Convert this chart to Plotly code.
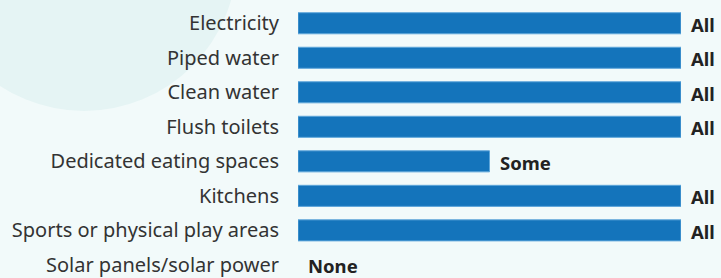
import plotly.graph_objects as go

categories = ["Electricity", "Piped water", "Clean water", "Flush toilets",
              "Dedicated eating spaces", "Kitchens",
              "Sports or physical play areas", "Solar panels/solar power"]
levels = ["All", "All", "All", "All", "Some", "All", "All", "None"]
level_values = {"None": 0, "Some": 1, "All": 2}
values = [level_values[l] for l in levels]

BG = "#f2fafa"
CIRCLE = "#e5f4f4"
BAR = "#1474bb"

fig = go.Figure()
fig.add_trace(go.Bar(
    x=values, y=categories, orientation="h",
    marker=dict(color=BAR, line=dict(color="#5ea6da",
                                     width=[1 if v > 0 else 0 for v in values])),
    width=0.61, hoverinfo="skip",
))

for cat, lab, v in zip(categories, levels, values):
    fig.add_annotation(x=v, y=cat, text="<b>" + lab + "</b>", showarrow=False,
                       xanchor="left", xshift=8, yshift=-1,
                       font=dict(family="Noto Sans", size=18.5, color="#222222"))

W, H = 721, 278
ml, mr, mt, mb = 298, 40, 6, 0
pw, ph = W - ml - mr, H - mt - mb

def px_x(x):
    return (x - ml) / pw

def px_y(y):
    return (H - mb - y) / ph

cx, cy, R = 84, -42, 153
fig.add_shape(type="circle", xref="paper", yref="paper",
              x0=px_x(cx - R), x1=px_x(cx + R), y0=px_y(cy + R), y1=px_y(cy - R),
              fillcolor=CIRCLE, line=dict(width=0), layer="below")

fig.update_layout(
    width=W, height=H, margin=dict(l=ml, r=mr, t=mt, b=mb),
    paper_bgcolor=BG, plot_bgcolor="rgba(0,0,0,0)",
    showlegend=False,
    font=dict(family="Noto Sans", size=20, color="#333333"),
)
fig.update_xaxes(range=[0, 2], visible=False, fixedrange=True)
fig.update_yaxes(range=[7.38, -0.5], showgrid=False, zeroline=False, showline=False,
                 ticks="", ticklabelstandoff=18, fixedrange=True,
                 tickfont=dict(family="Noto Sans", size=20, color="#333333"))

fig.write_html("out.html", config={"displayModeBar": False},
               post_script="document.body.style.margin='0';document.body.style.overflow='hidden';document.body.style.background='" + BG + "';")
